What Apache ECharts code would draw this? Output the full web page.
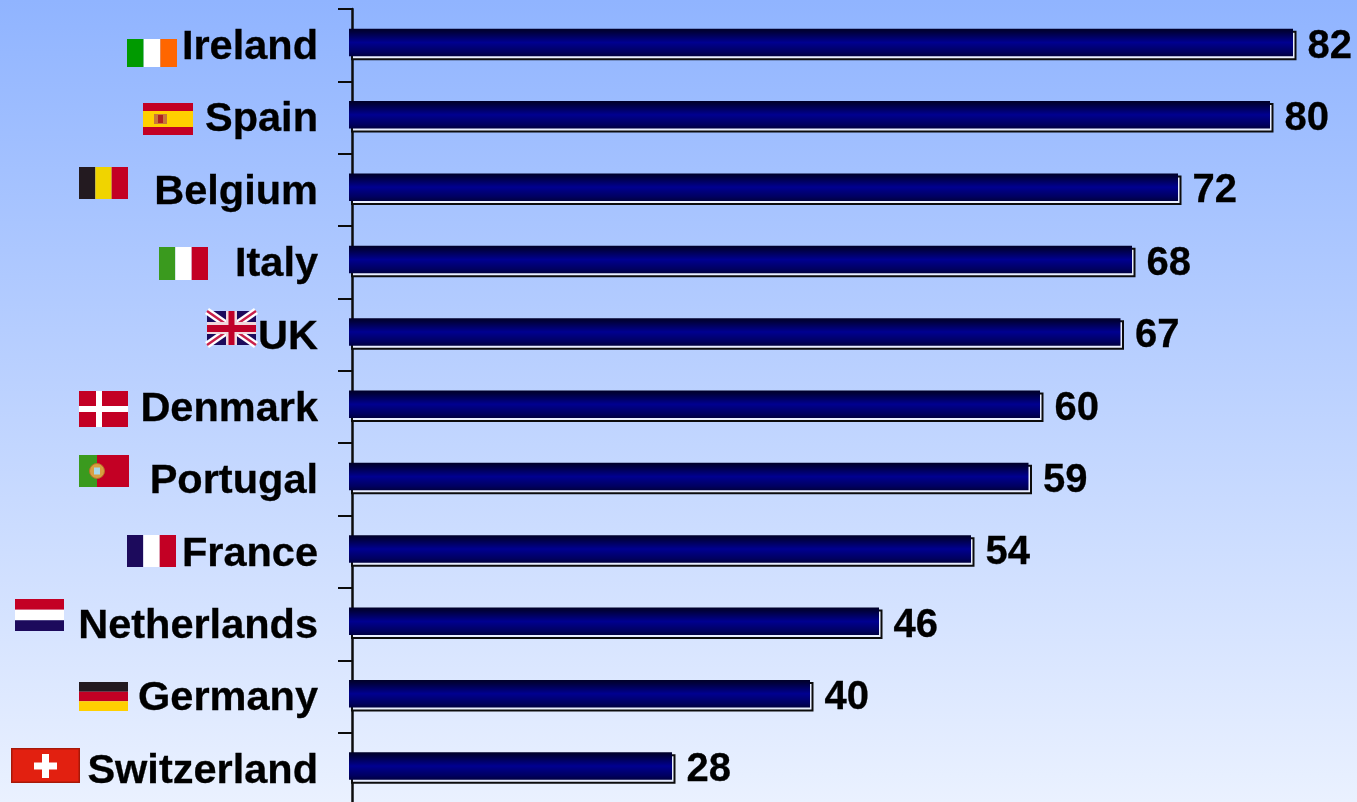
<!DOCTYPE html>
<html><head><meta charset="utf-8">
<style>html,body{margin:0;padding:0;overflow:hidden;background:#fff}#c{width:1357px;height:802px}</style>
<script src="https://cdn.jsdelivr.net/npm/echarts@6/dist/echarts.min.js"></script>
</head><body><div id="c"></div>
<script>
const countries = ['Ireland','Spain','Belgium','Italy','UK','Denmark','Portugal','France','Netherlands','Germany','Switzerland'];
const values = [82,80,72,68,67,60,59,54,46,40,28];

const FONT = '"Liberation Sans", Arial, sans-serif';
const chart = echarts.init(document.getElementById('c'), null, {renderer:'canvas'});

function rect(x,y,w,h,fill){return {type:'rect',silent:true,shape:{x,y,width:w,height:h},style:{fill}};}
function line(x1,y1,x2,y2,stroke,lineWidth){return {type:'line',silent:true,shape:{x1,y1,x2,y2},style:{stroke,lineWidth}};}
function circle(cx,cy,r,fill,stroke,lineWidth){return {type:'circle',silent:true,shape:{cx,cy,r},style:{fill,stroke,lineWidth}};}
const RED='#c30024', NAVY='#1c0a5c', BLK='#231a20', YEL='#f0d400', GRN='#3a9a1e';
function vstripes(x,y,w,h,c){const n=c.length;return c.map((f,i)=>rect(x+i*w/n,y,w/n,h,f));}
function hstripes(x,y,w,h,c){const n=c.length;return c.map((f,i)=>rect(x,y+i*h/n,w,h/n,f));}

const flags = [
  ...vstripes(127,39,50,28,['#009a00','#ffffff','#ff6600']),
  // Spain
  rect(143,103,50,32,RED), rect(143,111,50,16,'#ffd000'),
  rect(154,114,13,10,'#c8763a'), rect(158,115,5,8,'#b02020'),
  // Belgium
  ...vstripes(79,167,49,32,[BLK,YEL,RED]),
  // Italy
  ...vstripes(159,247,49,33,[GRN,'#ffffff',RED]),
  // UK
  rect(207,311,49,34,NAVY),
  line(207,311,256,345,'#ffffff',7), line(256,311,207,345,'#ffffff',7),
  line(207,311,256,345,'#c8204a',2.5), line(256,311,207,345,'#c8204a',2.5),
  rect(207,322,49,12,'#f0d8dc'), rect(226,311,11,34,'#f0d8dc'),
  rect(207,325,49,7,'#c00028'), rect(228.5,311,6,34,'#c00028'),
  // Denmark
  rect(79,391,49,36,RED), rect(79,406,49,6,'#ffffff'), rect(96,391,6,36,'#ffffff'),
  // Portugal
  rect(79,455,50,32,RED), rect(79,455,18,32,GRN),
  circle(97,471,7.5,'#d8a040','#b8702a',1), rect(94,467.5,6,7,'#a8d8e8'),
  // France
  ...vstripes(127,535,49,32,[NAVY,'#ffffff',RED]),
  // Netherlands
  ...hstripes(15,599,49,32,[RED,'#ffffff',NAVY]),
  // Germany
  ...hstripes(79,682,49,29,[BLK,RED,'#ffd000']),
  // Switzerland
  rect(11,748,69,35,'#a81808'), rect(12.5,749.5,66,32,'#e22010'),
  rect(34,762.5,23,7,'#ffffff'), rect(42,754,7,24,'#ffffff')
];

const BACK_STROKE = '#0c0c0c';
function renderBar(params, api){
  const v = api.value(0);
  const end = api.coord([v, api.value(1)]);
  const zero = api.coord([0, api.value(1)]);
  const cy = end[1];
  const top = cy - 16.5, bottom = cy + 11;
  const grad = new echarts.graphic.LinearGradient(0,0,0,1,[
    {offset:0,color:'#000028'},{offset:0.12,color:'#00003c'},
    {offset:0.5,color:'#000090'},{offset:0.85,color:'#000060'},{offset:1,color:'#000040'}]);
  return {type:'group',children:[
    {type:'rect',shape:{x:zero[0],y:top+3,width:end[0]-zero[0]+0.5,height:cy+14-(top+3)},
      style:{fill:'#e8eeff',stroke:BACK_STROKE,lineWidth:2}},
    {type:'rect',shape:{x:zero[0]-3,y:top,width:end[0]-zero[0]+1,height:bottom-top},style:{fill:grad}},
    {type:'text',style:{x:end[0]+12.5,y:cy+1.5,text:String(v),fill:'#000',stroke:'#000',lineWidth:0.3,
      font:'bold 40px '+FONT,textAlign:'left',textVerticalAlign:'middle'}}
  ]};
}

chart.setOption({
  animation:false,
  backgroundColor:new echarts.graphic.LinearGradient(0,0,0,1,[
    {offset:0,color:'#90b4ff'},{offset:1,color:'#eaf1ff'}]),
  grid:{left:352,top:9,width:1000.5,height:796,containLabel:false,outerBoundsMode:'none'},
  xAxis:{type:'value',min:0,max:87,show:false},
  yAxis:{type:'category',inverse:true,data:countries,
    axisLine:{show:true,onZero:false,lineStyle:{color:'#0c0c0c',width:2.5}},
    axisTick:{show:true,length:14,lineStyle:{color:'#0c0c0c',width:2}},
    axisLabel:{show:true,margin:34,interval:0,
      formatter:(name)=>'{t|'+name+'}',
      rich:{t:{color:'#000',fontFamily:FONT,fontWeight:'bold',fontSize:41.5,
        padding:[5,0,0,0],textBorderColor:'#000',textBorderWidth:0.3}}}
  },
  series:[{type:'custom',coordinateSystem:'cartesian2d',clip:false,
    encode:{x:0,y:1},
    data:values.map((v,i)=>[v,i]),
    renderItem:renderBar}],
  graphic:{elements:flags}
});
</script></body></html>
